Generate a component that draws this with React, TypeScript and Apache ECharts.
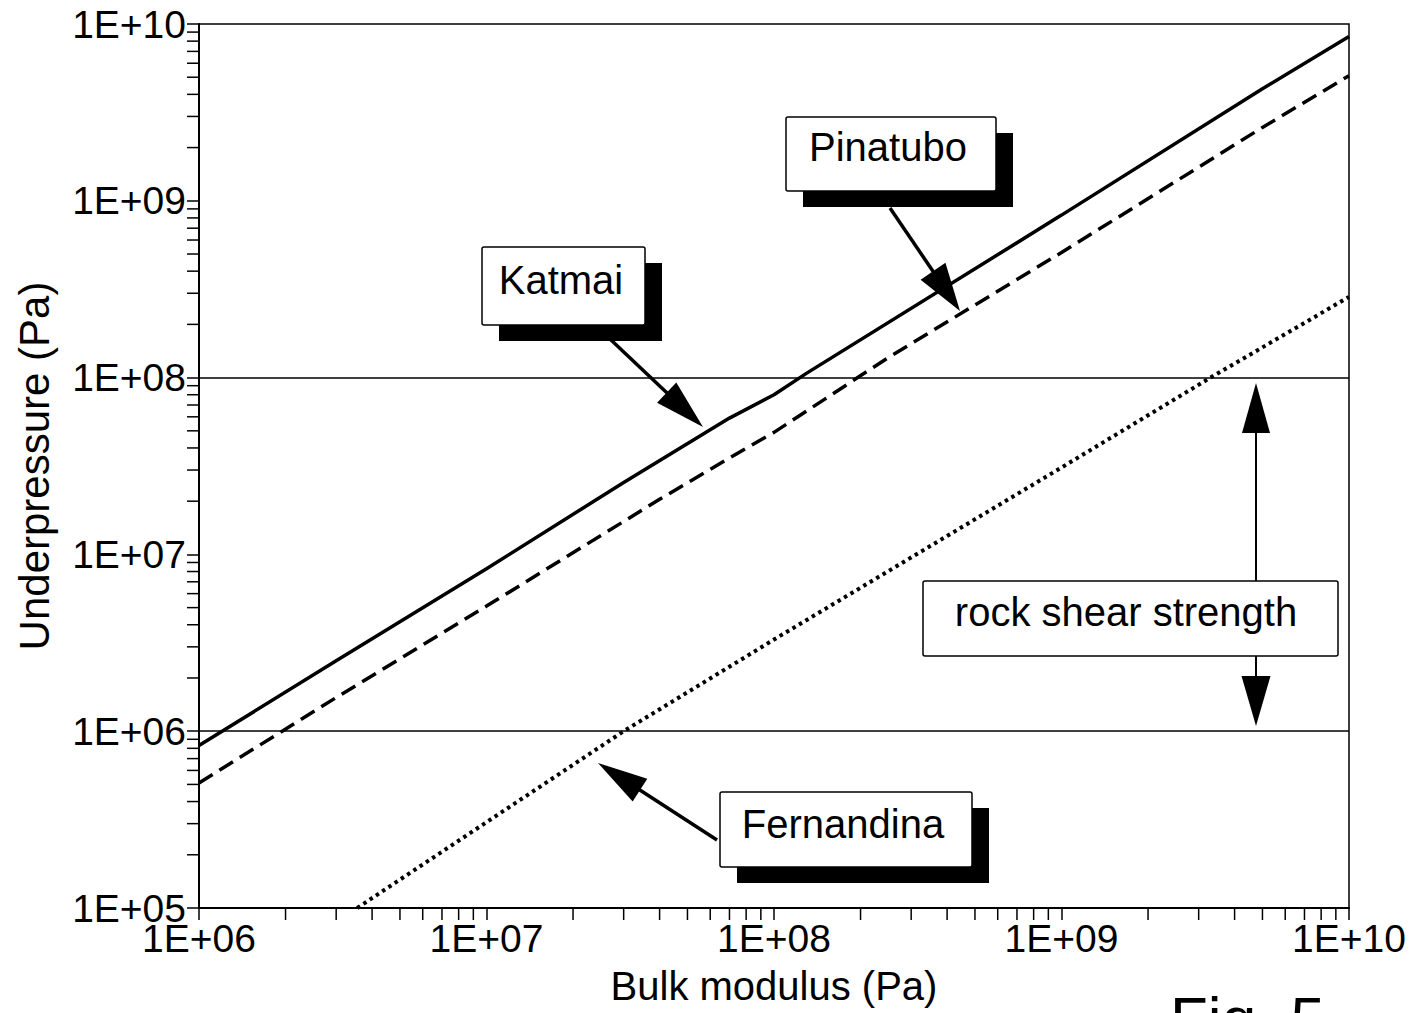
import React, { useEffect, useRef } from "react";
import * as echarts from "echarts";

// ---- data ----
const xTickLabels = ["1E+06", "1E+07", "1E+08", "1E+09", "1E+10"];
const yTickLabels = ["1E+05", "1E+06", "1E+07", "1E+08", "1E+09", "1E+10"];

const katmai: [number, number][] = [
  [1e6, 8.3e5],
  [3e6, 2.5e6],
  [1e7, 8.3e6],
  [3e7, 2.55e7],
  [7e7, 5.9e7],
  [1e8, 8.0e7],
  [1.3e8, 1.06e8],
  [1e9, 8.3e8],
  [5e9, 4.3e9],
  [1e10, 8.5e9],
];
const pinatubo: [number, number][] = [
  [1e6, 5.1e5],
  [3e6, 1.55e6],
  [1e7, 5.1e6],
  [4e7, 2.05e7],
  [7.5e7, 3.75e7],
  [1e8, 4.9e7],
  [2.5e8, 1.3e8],
  [1e9, 5.1e8],
  [5e9, 2.6e9],
  [1e10, 5.1e9],
];
const fernandina: [number, number][] = [
  [3.55e6, 1e5],
  [3.0e7, 1e6],
  [1e8, 3.3e6],
  [1e9, 3.1e7],
  [3.3e9, 1e8],
  [1e10, 2.86e8],
];
const shearLimits = [1e6, 1e8];

const xMinor: number[] = [];
for (let e = 6; e < 10; e++) for (let m = 2; m <= 9; m++) xMinor.push(m * Math.pow(10, e));
const yMinor: number[] = [];
for (let e = 5; e < 10; e++) for (let m = 2; m <= 9; m++) yMinor.push(m * Math.pow(10, e));

const FONT = "Liberation Sans";

function expLabel(labels: string[], v: number) {
  const e = Math.round(Math.log10(v));
  const s = "1E+" + (e < 10 ? "0" + e : "" + e);
  return labels.indexOf(s) >= 0 ? s : "";
}

function arrow(x1: number, y1: number, x2: number, y2: number, hl: number, hw: number, lw: number) {
  const dx = x2 - x1, dy = y2 - y1;
  const L = Math.sqrt(dx * dx + dy * dy);
  const ux = dx / L, uy = dy / L;
  const bx = x2 - ux * hl, by = y2 - uy * hl;
  const px = -uy, py = ux;
  return [
    { type: "line", shape: { x1, y1, x2: bx + ux * 2, y2: by + uy * 2 }, style: { stroke: "#000", lineWidth: lw }, z: 100 },
    {
      type: "polygon",
      shape: { points: [[x2, y2], [bx + px * hw / 2, by + py * hw / 2], [bx - px * hw / 2, by - py * hw / 2]] },
      style: { fill: "#000" },
      z: 100,
    },
  ];
}

function box(x: number, y: number, w: number, h: number, text: string, tx: number, ty: number, shadow: boolean) {
  const els: any[] = [];
  if (shadow) {
    els.push({ type: "rect", shape: { x: x + 17, y: y + 16, width: w, height: h }, style: { fill: "#000" }, z: 101 });
  }
  els.push({
    type: "rect",
    shape: { x, y, width: w, height: h, r: 2 },
    style: { fill: "#fff", stroke: "#000", lineWidth: 1.5 },
    z: 102,
  });
  els.push({
    type: "text",
    x: tx,
    y: ty,
    style: { text, font: `40px "${FONT}"`, fill: "#000", align: "center", verticalAlign: "middle" },
    z: 103,
  });
  return els;
}

export default function App() {
  const ref = useRef<HTMLDivElement>(null);
  useEffect(() => {
    if (!ref.current) return;
    const chart = echarts.init(ref.current, null, { renderer: "svg" });
    const lblStyle = { color: "#000", fontFamily: FONT, fontSize: 39 };
    const option: any = {
      animation: false,
      backgroundColor: "#fff",
      grid: {
        left: 199,
        top: 24,
        width: 1150,
        height: 884,
        show: true,
        borderColor: "#000",
        borderWidth: 1.5,
        backgroundColor: "transparent",
      },
      xAxis: {
        type: "log",
        logBase: 10,
        min: 1e6,
        max: 1e10,
        name: "Bulk modulus (Pa)",
        nameLocation: "middle",
        nameGap: 58,
        nameTextStyle: { color: "#000", fontFamily: FONT, fontSize: 40, verticalAlign: "top" },
        axisLine: { show: true, lineStyle: { color: "#000", width: 2 } },
        axisTick: { show: true, length: 12, lineStyle: { color: "#000", width: 1.5 } },
        minorTick: { show: false },
        splitLine: { show: false },
        axisLabel: { ...lblStyle, margin: 11, formatter: (v: number) => expLabel(xTickLabels, v) },
      },
      yAxis: {
        type: "log",
        logBase: 10,
        min: 1e5,
        max: 1e10,
        name: "Underpressure (Pa)",
        nameLocation: "middle",
        nameGap: 144,
        nameRotate: 90,
        nameTextStyle: { color: "#000", fontFamily: FONT, fontSize: 42 },
        axisLine: { show: true, lineStyle: { color: "#000", width: 2 } },
        axisTick: { show: true, length: 12, lineStyle: { color: "#000", width: 1.5 } },
        splitLine: { show: false },
        axisLabel: { ...lblStyle, margin: 13, formatter: (v: number) => expLabel(yTickLabels, v) },
      },
      series: [
        {
          name: "Katmai",
          type: "line",
          data: katmai,
          symbol: "none",
          lineStyle: { color: "#000", width: 3.5, type: "solid" },
          z: 10,
          markLine: {
            silent: true,
            symbol: "none",
            label: { show: false },
            lineStyle: { color: "#000", width: 1.5, type: "solid" },
            data: shearLimits.map((v) => ({ yAxis: v })),
          },
        },
        {
          name: "Pinatubo",
          type: "line",
          data: pinatubo,
          symbol: "none",
          lineStyle: { color: "#000", width: 3.5, type: [16, 8] },
          z: 10,
        },
        {
          name: "Fernandina",
          type: "line",
          data: fernandina,
          symbol: "none",
          lineStyle: { color: "#000", width: 4, type: [3.5, 4] },
          z: 10,
        },
        {
          type: "custom",
          clip: false,
          silent: true,
          data: xMinor.map((v) => [v, 1e5]),
          renderItem: (_p: any, api: any) => {
            const pt = api.coord([api.value(0), 1e5]);
            return {
              type: "line",
              shape: { x1: pt[0], y1: pt[1], x2: pt[0], y2: pt[1] + 12 },
              style: { stroke: "#000", lineWidth: 1.5 },
            };
          },
        },
        {
          type: "custom",
          clip: false,
          silent: true,
          data: yMinor.map((v) => [1e6, v]),
          renderItem: (_p: any, api: any) => {
            const pt = api.coord([1e6, api.value(1)]);
            return {
              type: "line",
              shape: { x1: pt[0] - 12, y1: pt[1], x2: pt[0], y2: pt[1] },
              style: { stroke: "#000", lineWidth: 1.5 },
            };
          },
        },
      ],
      graphic: [
        ...arrow(610, 339, 703, 427, 50, 28, 3.5),
        ...arrow(890, 208, 960, 311, 48, 30, 3.5),
        ...arrow(717, 840, 598, 763, 50, 27, 3.5),
        ...arrow(1256, 581, 1256, 383, 50, 28, 2),
        ...arrow(1256, 656, 1256, 726, 50, 29, 2),
        ...box(482, 247, 163, 78, "Katmai", 561, 280, true),
        ...box(786, 117, 210, 74, "Pinatubo", 888, 147, true),
        ...box(720, 792, 252, 75, "Fernandina", 843, 824, true),
        ...box(923, 581, 415, 75, "rock shear strength", 1126, 612, false),
        {
          type: "text",
          x: 1170,
          y: 987,
          style: { text: "Fig. 5", font: `62px "${FONT}"`, fill: "#000", align: "left", verticalAlign: "top" },
          z: 103,
        },
      ],
    };
    chart.setOption(option);
    return () => chart.dispose();
  }, []);
  return (
    <div
      ref={ref}
      style={{ position: "fixed", left: 0, top: 0, width: 1416, height: 1013, background: "#fff" }}
    />
  );
}
